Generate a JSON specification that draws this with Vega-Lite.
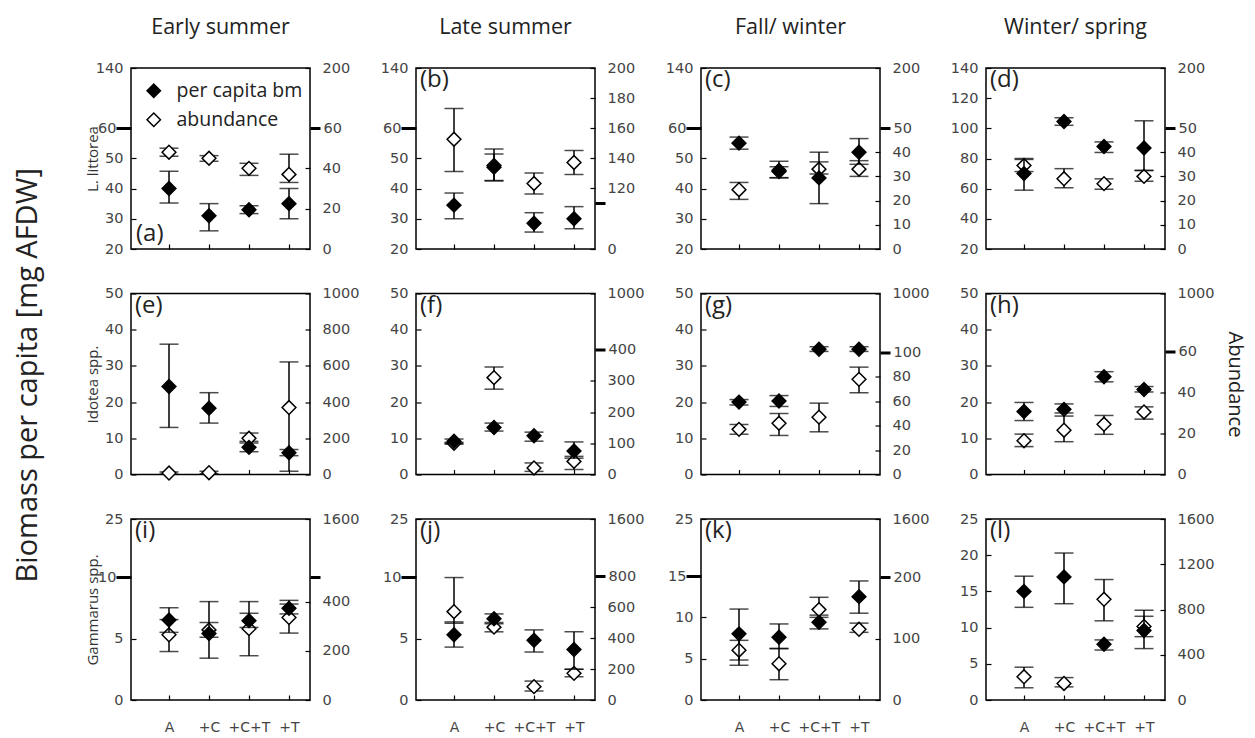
{
"$schema": "https://vega.github.io/schema/vega-lite/v6.json",
"background": "white",
"padding": {"left": 14, "top": 15, "right": 5, "bottom": 5},
"title": {"text": "Biomass per capita [mg AFDW]", "orient": "left", "anchor": "middle", "font": "Open Sans", "fontSize": 29, "fontWeight": "normal", "color": "#222", "offset": 41},
"data": {"values": [
{"panel":"a","trt":"A","metric":"per capita bm","value":40,"lo":35.2,"hi":45.7},
{"panel":"a","trt":"+C","metric":"per capita bm","value":31,"lo":26,"hi":35},
{"panel":"a","trt":"+C+T","metric":"per capita bm","value":33,"lo":31.7,"hi":34.3},
{"panel":"a","trt":"+T","metric":"per capita bm","value":35,"lo":30,"hi":40},
{"panel":"a","trt":"A","metric":"abundance","value":48,"lo":46,"hi":50},
{"panel":"a","trt":"+C","metric":"abundance","value":45,"lo":43.5,"hi":46.3},
{"panel":"a","trt":"+C+T","metric":"abundance","value":40,"lo":36.5,"hi":42.5},
{"panel":"a","trt":"+T","metric":"abundance","value":37,"lo":33,"hi":47},
{"panel":"b","trt":"A","metric":"per capita bm","value":34.5,"lo":30,"hi":38.5},
{"panel":"b","trt":"+C","metric":"per capita bm","value":47,"lo":42.5,"hi":51.4},
{"panel":"b","trt":"+C+T","metric":"per capita bm","value":28.5,"lo":25.6,"hi":32},
{"panel":"b","trt":"+T","metric":"per capita bm","value":30,"lo":26.7,"hi":34},
{"panel":"b","trt":"A","metric":"abundance","value":152.5,"lo":131,"hi":173},
{"panel":"b","trt":"+C","metric":"abundance","value":135,"lo":125,"hi":146},
{"panel":"b","trt":"+C+T","metric":"abundance","value":123,"lo":116,"hi":130},
{"panel":"b","trt":"+T","metric":"abundance","value":137,"lo":129,"hi":145},
{"panel":"c","trt":"A","metric":"per capita bm","value":55,"lo":53,"hi":57},
{"panel":"c","trt":"+C","metric":"per capita bm","value":46,"lo":43.5,"hi":49},
{"panel":"c","trt":"+C+T","metric":"per capita bm","value":43.5,"lo":35,"hi":52},
{"panel":"c","trt":"+T","metric":"per capita bm","value":52,"lo":48,"hi":56.5},
{"panel":"c","trt":"A","metric":"abundance","value":24.5,"lo":20.5,"hi":27.5},
{"panel":"c","trt":"+C","metric":"abundance","value":32,"lo":29.5,"hi":34},
{"panel":"c","trt":"+C+T","metric":"abundance","value":33,"lo":31,"hi":36},
{"panel":"c","trt":"+T","metric":"abundance","value":33,"lo":30,"hi":36.5},
{"panel":"d","trt":"A","metric":"per capita bm","value":70,"lo":59,"hi":80},
{"panel":"d","trt":"+C","metric":"per capita bm","value":104.5,"lo":102,"hi":107},
{"panel":"d","trt":"+C+T","metric":"per capita bm","value":88,"lo":84,"hi":91},
{"panel":"d","trt":"+T","metric":"per capita bm","value":87,"lo":72,"hi":105},
{"panel":"d","trt":"A","metric":"abundance","value":34.5,"lo":32,"hi":37},
{"panel":"d","trt":"+C","metric":"abundance","value":29,"lo":25.3,"hi":33.2},
{"panel":"d","trt":"+C+T","metric":"abundance","value":27,"lo":24.7,"hi":29},
{"panel":"d","trt":"+T","metric":"abundance","value":30,"lo":28,"hi":32.5},
{"panel":"e","trt":"A","metric":"per capita bm","value":24.3,"lo":13,"hi":36},
{"panel":"e","trt":"+C","metric":"per capita bm","value":18.3,"lo":14.2,"hi":22.6},
{"panel":"e","trt":"+C+T","metric":"per capita bm","value":7.5,"lo":6.3,"hi":8.7},
{"panel":"e","trt":"+T","metric":"per capita bm","value":6,"lo":5.2,"hi":6.9},
{"panel":"e","trt":"A","metric":"abundance","value":8,"lo":2,"hi":14},
{"panel":"e","trt":"+C","metric":"abundance","value":10,"lo":4,"hi":18},
{"panel":"e","trt":"+C+T","metric":"abundance","value":200,"lo":183,"hi":229},
{"panel":"e","trt":"+T","metric":"abundance","value":370,"lo":18,"hi":622},
{"panel":"f","trt":"A","metric":"per capita bm","value":9.2,"lo":8.6,"hi":9.8},
{"panel":"f","trt":"+C","metric":"per capita bm","value":13,"lo":12,"hi":14.2},
{"panel":"f","trt":"+C+T","metric":"per capita bm","value":10.7,"lo":9.2,"hi":11.7},
{"panel":"f","trt":"+T","metric":"per capita bm","value":6.5,"lo":4.5,"hi":9},
{"panel":"f","trt":"A","metric":"abundance","value":100,"lo":97,"hi":103},
{"panel":"f","trt":"+C","metric":"abundance","value":310,"lo":273,"hi":344},
{"panel":"f","trt":"+C+T","metric":"abundance","value":21,"lo":10,"hi":37},
{"panel":"f","trt":"+T","metric":"abundance","value":42,"lo":16,"hi":58},
{"panel":"g","trt":"A","metric":"per capita bm","value":20,"lo":19.2,"hi":20.7},
{"panel":"g","trt":"+C","metric":"per capita bm","value":20.3,"lo":18.8,"hi":21.8},
{"panel":"g","trt":"+C+T","metric":"per capita bm","value":34.6,"lo":34,"hi":35.3},
{"panel":"g","trt":"+T","metric":"per capita bm","value":34.6,"lo":34,"hi":35.3},
{"panel":"g","trt":"A","metric":"abundance","value":37,"lo":33,"hi":41},
{"panel":"g","trt":"+C","metric":"abundance","value":42,"lo":32,"hi":50},
{"panel":"g","trt":"+C+T","metric":"abundance","value":47,"lo":35,"hi":58.5},
{"panel":"g","trt":"+T","metric":"abundance","value":78,"lo":67,"hi":88},
{"panel":"h","trt":"A","metric":"per capita bm","value":17.4,"lo":14.9,"hi":19.9},
{"panel":"h","trt":"+C","metric":"per capita bm","value":18,"lo":17,"hi":19.5},
{"panel":"h","trt":"+C+T","metric":"per capita bm","value":27,"lo":25.6,"hi":28.4},
{"panel":"h","trt":"+T","metric":"per capita bm","value":23.5,"lo":22.8,"hi":24.3},
{"panel":"h","trt":"A","metric":"abundance","value":16.5,"lo":13.6,"hi":19.7},
{"panel":"h","trt":"+C","metric":"abundance","value":21.6,"lo":16,"hi":28.5},
{"panel":"h","trt":"+C+T","metric":"abundance","value":24.5,"lo":19.6,"hi":28.8},
{"panel":"h","trt":"+T","metric":"abundance","value":30.5,"lo":27,"hi":33},
{"panel":"i","trt":"A","metric":"per capita bm","value":6.5,"lo":5.5,"hi":7.5},
{"panel":"i","trt":"+C","metric":"per capita bm","value":5.4,"lo":3.4,"hi":8},
{"panel":"i","trt":"+C+T","metric":"per capita bm","value":6.45,"lo":5.9,"hi":7.05},
{"panel":"i","trt":"+T","metric":"per capita bm","value":7.45,"lo":7,"hi":7.8},
{"panel":"i","trt":"A","metric":"abundance","value":265,"lo":197,"hi":327},
{"panel":"i","trt":"+C","metric":"abundance","value":285,"lo":255,"hi":315},
{"panel":"i","trt":"+C+T","metric":"abundance","value":290,"lo":180,"hi":400},
{"panel":"i","trt":"+T","metric":"abundance","value":335,"lo":272,"hi":405},
{"panel":"j","trt":"A","metric":"per capita bm","value":5.3,"lo":4.3,"hi":6.35},
{"panel":"j","trt":"+C","metric":"per capita bm","value":6.6,"lo":6.2,"hi":7},
{"panel":"j","trt":"+C+T","metric":"per capita bm","value":4.86,"lo":3.9,"hi":5.7},
{"panel":"j","trt":"+T","metric":"per capita bm","value":4.1,"lo":2.5,"hi":5.55},
{"panel":"j","trt":"A","metric":"abundance","value":570,"lo":495,"hi":790},
{"panel":"j","trt":"+C","metric":"abundance","value":470,"lo":440,"hi":500},
{"panel":"j","trt":"+C+T","metric":"abundance","value":86,"lo":58,"hi":122},
{"panel":"j","trt":"+T","metric":"abundance","value":172,"lo":150,"hi":198},
{"panel":"k","trt":"A","metric":"per capita bm","value":8,"lo":4.2,"hi":11},
{"panel":"k","trt":"+C","metric":"per capita bm","value":7.6,"lo":6.2,"hi":9.2},
{"panel":"k","trt":"+C+T","metric":"per capita bm","value":9.4,"lo":8.6,"hi":10},
{"panel":"k","trt":"+T","metric":"per capita bm","value":12.5,"lo":10.5,"hi":14.4},
{"panel":"k","trt":"A","metric":"abundance","value":81,"lo":65,"hi":97},
{"panel":"k","trt":"+C","metric":"abundance","value":59,"lo":33,"hi":84},
{"panel":"k","trt":"+C+T","metric":"abundance","value":147,"lo":138,"hi":167},
{"panel":"k","trt":"+T","metric":"abundance","value":115,"lo":110,"hi":125},
{"panel":"l","trt":"A","metric":"per capita bm","value":15,"lo":12.8,"hi":17.1},
{"panel":"l","trt":"+C","metric":"per capita bm","value":17,"lo":13.3,"hi":20.3},
{"panel":"l","trt":"+C+T","metric":"per capita bm","value":7.7,"lo":6.9,"hi":8.3},
{"panel":"l","trt":"+T","metric":"per capita bm","value":9.6,"lo":7.1,"hi":12.4},
{"panel":"l","trt":"A","metric":"abundance","value":205,"lo":108,"hi":290},
{"panel":"l","trt":"+C","metric":"abundance","value":146,"lo":116,"hi":198},
{"panel":"l","trt":"+C+T","metric":"abundance","value":890,"lo":700,"hi":1065},
{"panel":"l","trt":"+T","metric":"abundance","value":650,"lo":560,"hi":740}
]},
"columns": 4,
"spacing": {"row": 44.5, "column": 106},
"bounds": "flush",
"resolve": {"scale": {"x": "independent", "y": "independent", "fill": "independent"}, "legend": {"fill": "independent"}},
"concat": [
{"width": 179, "height": 181,
 "title": {"text": "Early summer", "font": "Open Sans", "fontSize": 21.5, "fontWeight": "normal", "color": "#222", "offset": 22},
 "transform": [{"filter": "datum.panel == 'a'"}],
 "encoding": {"x": {"field": "trt", "type": "nominal", "scale": {"type": "point", "domain": ["A","+C","+C+T","+T"], "range": [38,158], "padding": 0}, "axis": {"title": null, "labels": false, "tickSize": -5, "domain": false}}},
 "layer": [
  {"transform": [{"filter": "datum.metric == 'abundance'"}],
   "layer": [
    {"mark": {"type": "errorbar", "ticks": true, "size": 19, "thickness": 1.5, "color": "black"},
     "encoding": {"y": {"field": "lo", "type": "quantitative", "scale": {"domain": [0,60,200], "range": [181,60,0], "nice": false, "zero": false}, "axis": {"orient": "right", "title": null, "values": [0,20,40,60,200], "labelOverlap": false, "tickSize": {"condition": {"test": "datum.value == 60", "value": 10}, "value": -5}, "tickWidth": {"condition": {"test": "datum.value == 60", "value": 3}, "value": 1.2}, "labelPadding": {"condition": {"test": "datum.value == 60", "value": 3}, "value": 17}}}, "y2": {"field": "hi"}}},
    {"mark": {"type": "point", "shape": "diamond", "size": 190, "filled": true, "stroke": "black", "strokeWidth": 1.5, "opacity": 1},
     "encoding": {"y": {"field": "value", "type": "quantitative", "scale": {"domain": [0,60,200], "range": [181,60,0], "nice": false, "zero": false}, "axis": {"orient": "right", "title": null, "values": [0,20,40,60,200], "labelOverlap": false, "tickSize": {"condition": {"test": "datum.value == 60", "value": 10}, "value": -5}, "tickWidth": {"condition": {"test": "datum.value == 60", "value": 3}, "value": 1.2}, "labelPadding": {"condition": {"test": "datum.value == 60", "value": 3}, "value": 17}}},
      "fill": {"field": "metric", "type": "nominal", "scale": {"domain": ["per capita bm","abundance"], "range": ["black","white"]}, "legend": {"title": null, "orient": "top-left", "offset": 13, "padding": 0, "labelFont": "Open Sans", "labelFontSize": 19.5, "labelColor": "#222", "symbolType": "diamond", "symbolSize": 180, "symbolStrokeColor": "black", "symbolStrokeWidth": 1.5, "rowPadding": 8, "labelOffset": 13}}}}
   ]},
  {"transform": [{"filter": "datum.metric == 'per capita bm'"}],
   "layer": [
    {"mark": {"type": "errorbar", "ticks": true, "size": 19, "thickness": 1.5, "color": "black"},
     "encoding": {"y": {"field": "lo", "type": "quantitative", "scale": {"domain": [20,60,140], "range": [181,60,0], "nice": false, "zero": false}, "axis": {"orient": "left", "title": "L. littorea", "titleX": -31, "titleFont": "Open Sans", "titleFontSize": 15, "titleFontWeight": "normal", "titleColor": "#333", "values": [20,30,40,50,60,140], "labelOverlap": false, "tickSize": {"condition": {"test": "datum.value == 60", "value": 15}, "value": -5}, "tickWidth": {"condition": {"test": "datum.value == 60", "value": 3}, "value": 1.2}, "labelPadding": {"condition": {"test": "datum.value == 60", "value": 0}, "value": 13}}}, "y2": {"field": "hi"}}},
    {"mark": {"type": "point", "shape": "diamond", "size": 190, "filled": true, "stroke": "black", "strokeWidth": 1.5, "opacity": 1},
     "encoding": {"y": {"field": "value", "type": "quantitative", "scale": {"domain": [20,60,140], "range": [181,60,0], "nice": false, "zero": false}, "axis": {"orient": "left", "title": "L. littorea", "titleX": -31, "titleFont": "Open Sans", "titleFontSize": 15, "titleFontWeight": "normal", "titleColor": "#333", "values": [20,30,40,50,60,140], "labelOverlap": false, "tickSize": {"condition": {"test": "datum.value == 60", "value": 15}, "value": -5}, "tickWidth": {"condition": {"test": "datum.value == 60", "value": 3}, "value": 1.2}, "labelPadding": {"condition": {"test": "datum.value == 60", "value": 0}, "value": 13}}},
      "fill": {"field": "metric", "type": "nominal", "scale": {"domain": ["per capita bm","abundance"], "range": ["black","white"]}, "legend": {"title": null, "orient": "top-left", "offset": 13, "padding": 0, "labelFont": "Open Sans", "labelFontSize": 19.5, "labelColor": "#222", "symbolType": "diamond", "symbolSize": 180, "symbolStrokeColor": "black", "symbolStrokeWidth": 1.5, "rowPadding": 8, "labelOffset": 13}}}},
    {"transform": [{"filter": "datum.trt == 'A'"}],
     "mark": {"type": "text", "text": "(a)", "align": "left", "baseline": "bottom", "dx": -33, "dy": -3, "font": "Open Sans", "fontSize": 24, "color": "#222"},
     "encoding": {"y": {"datum": 20, "type": "quantitative", "scale": {"domain": [20,60,140], "range": [181,60,0], "nice": false, "zero": false}, "axis": {"orient": "left", "title": "L. littorea", "titleX": -31, "titleFont": "Open Sans", "titleFontSize": 15, "titleFontWeight": "normal", "titleColor": "#333", "values": [20,30,40,50,60,140], "labelOverlap": false, "tickSize": {"condition": {"test": "datum.value == 60", "value": 15}, "value": -5}, "tickWidth": {"condition": {"test": "datum.value == 60", "value": 3}, "value": 1.2}, "labelPadding": {"condition": {"test": "datum.value == 60", "value": 0}, "value": 13}}}}}
   ]}
 ],
 "resolve": {"scale": {"y": "independent"}}},

{"width": 179, "height": 181,
 "title": {"text": "Late summer", "font": "Open Sans", "fontSize": 21.5, "fontWeight": "normal", "color": "#222", "offset": 22},
 "transform": [{"filter": "datum.panel == 'b'"}],
 "encoding": {"x": {"field": "trt", "type": "nominal", "scale": {"type": "point", "domain": ["A","+C","+C+T","+T"], "range": [38,158], "padding": 0}, "axis": {"title": null, "labels": false, "tickSize": -5, "domain": false}}},
 "layer": [
  {"transform": [{"filter": "datum.metric == 'abundance'"}],
   "layer": [
    {"mark": {"type": "errorbar", "ticks": true, "size": 19, "thickness": 1.5, "color": "black"},
     "encoding": {"y": {"field": "lo", "type": "quantitative", "scale": {"domain": [0,110,200], "range": [181,135,0], "nice": false, "zero": false}, "axis": {"orient": "right", "title": null, "values": [0,110,120,140,160,180,200], "labelExpr": "datum.value == 110 ? '' : datum.label", "labelOverlap": false, "tickSize": {"condition": {"test": "datum.value == 110", "value": 10}, "value": -5}, "tickWidth": {"condition": {"test": "datum.value == 110", "value": 3}, "value": 1.2}, "labelPadding": 17}}, "y2": {"field": "hi"}}},
    {"mark": {"type": "point", "shape": "diamond", "size": 190, "filled": true, "stroke": "black", "strokeWidth": 1.5, "opacity": 1},
     "encoding": {"y": {"field": "value", "type": "quantitative", "scale": {"domain": [0,110,200], "range": [181,135,0], "nice": false, "zero": false}, "axis": {"orient": "right", "title": null, "values": [0,110,120,140,160,180,200], "labelExpr": "datum.value == 110 ? '' : datum.label", "labelOverlap": false, "tickSize": {"condition": {"test": "datum.value == 110", "value": 10}, "value": -5}, "tickWidth": {"condition": {"test": "datum.value == 110", "value": 3}, "value": 1.2}, "labelPadding": 17}},
      "fill": {"field": "metric", "type": "nominal", "scale": {"domain": ["per capita bm","abundance"], "range": ["black","white"]}, "legend": null}}}
   ]},
  {"transform": [{"filter": "datum.metric == 'per capita bm'"}],
   "layer": [
    {"mark": {"type": "errorbar", "ticks": true, "size": 19, "thickness": 1.5, "color": "black"},
     "encoding": {"y": {"field": "lo", "type": "quantitative", "scale": {"domain": [20,60,140], "range": [181,60,0], "nice": false, "zero": false}, "axis": {"orient": "left", "title": null, "values": [20,30,40,50,60,140], "labelOverlap": false, "tickSize": {"condition": {"test": "datum.value == 60", "value": 15}, "value": -5}, "tickWidth": {"condition": {"test": "datum.value == 60", "value": 3}, "value": 1.2}, "labelPadding": {"condition": {"test": "datum.value == 60", "value": 0}, "value": 13}}}, "y2": {"field": "hi"}}},
    {"mark": {"type": "point", "shape": "diamond", "size": 190, "filled": true, "stroke": "black", "strokeWidth": 1.5, "opacity": 1},
     "encoding": {"y": {"field": "value", "type": "quantitative", "scale": {"domain": [20,60,140], "range": [181,60,0], "nice": false, "zero": false}, "axis": {"orient": "left", "title": null, "values": [20,30,40,50,60,140], "labelOverlap": false, "tickSize": {"condition": {"test": "datum.value == 60", "value": 15}, "value": -5}, "tickWidth": {"condition": {"test": "datum.value == 60", "value": 3}, "value": 1.2}, "labelPadding": {"condition": {"test": "datum.value == 60", "value": 0}, "value": 13}}},
      "fill": {"field": "metric", "type": "nominal", "scale": {"domain": ["per capita bm","abundance"], "range": ["black","white"]}, "legend": null}}},
    {"transform": [{"filter": "datum.trt == 'A'"}],
     "mark": {"type": "text", "text": "(b)", "align": "left", "baseline": "top", "dx": -34, "dy": 0, "font": "Open Sans", "fontSize": 24, "color": "#222"},
     "encoding": {"y": {"datum": 140, "type": "quantitative", "scale": {"domain": [20,60,140], "range": [181,60,0], "nice": false, "zero": false}, "axis": {"orient": "left", "title": null, "values": [20,30,40,50,60,140], "labelOverlap": false, "tickSize": {"condition": {"test": "datum.value == 60", "value": 15}, "value": -5}, "tickWidth": {"condition": {"test": "datum.value == 60", "value": 3}, "value": 1.2}, "labelPadding": {"condition": {"test": "datum.value == 60", "value": 0}, "value": 13}}}}}
   ]}
 ],
 "resolve": {"scale": {"y": "independent"}}},

{"width": 179, "height": 181,
 "title": {"text": "Fall/ winter", "font": "Open Sans", "fontSize": 21.5, "fontWeight": "normal", "color": "#222", "offset": 22},
 "transform": [{"filter": "datum.panel == 'c'"}],
 "encoding": {"x": {"field": "trt", "type": "nominal", "scale": {"type": "point", "domain": ["A","+C","+C+T","+T"], "range": [38,158], "padding": 0}, "axis": {"title": null, "labels": false, "tickSize": -5, "domain": false}}},
 "layer": [
  {"transform": [{"filter": "datum.metric == 'abundance'"}],
   "layer": [
    {"mark": {"type": "errorbar", "ticks": true, "size": 19, "thickness": 1.5, "color": "black"},
     "encoding": {"y": {"field": "lo", "type": "quantitative", "scale": {"domain": [0,50,200], "range": [181,60,0], "nice": false, "zero": false}, "axis": {"orient": "right", "title": null, "values": [0,10,20,30,40,50,200], "labelOverlap": false, "tickSize": {"condition": {"test": "datum.value == 50", "value": 10}, "value": -5}, "tickWidth": {"condition": {"test": "datum.value == 50", "value": 3}, "value": 1.2}, "labelPadding": {"condition": {"test": "datum.value == 50", "value": 3}, "value": 17}}}, "y2": {"field": "hi"}}},
    {"mark": {"type": "point", "shape": "diamond", "size": 190, "filled": true, "stroke": "black", "strokeWidth": 1.5, "opacity": 1},
     "encoding": {"y": {"field": "value", "type": "quantitative", "scale": {"domain": [0,50,200], "range": [181,60,0], "nice": false, "zero": false}, "axis": {"orient": "right", "title": null, "values": [0,10,20,30,40,50,200], "labelOverlap": false, "tickSize": {"condition": {"test": "datum.value == 50", "value": 10}, "value": -5}, "tickWidth": {"condition": {"test": "datum.value == 50", "value": 3}, "value": 1.2}, "labelPadding": {"condition": {"test": "datum.value == 50", "value": 3}, "value": 17}}},
      "fill": {"field": "metric", "type": "nominal", "scale": {"domain": ["per capita bm","abundance"], "range": ["black","white"]}, "legend": null}}}
   ]},
  {"transform": [{"filter": "datum.metric == 'per capita bm'"}],
   "layer": [
    {"mark": {"type": "errorbar", "ticks": true, "size": 19, "thickness": 1.5, "color": "black"},
     "encoding": {"y": {"field": "lo", "type": "quantitative", "scale": {"domain": [20,60,140], "range": [181,60,0], "nice": false, "zero": false}, "axis": {"orient": "left", "title": null, "values": [20,30,40,50,60,140], "labelOverlap": false, "tickSize": {"condition": {"test": "datum.value == 60", "value": 15}, "value": -5}, "tickWidth": {"condition": {"test": "datum.value == 60", "value": 3}, "value": 1.2}, "labelPadding": {"condition": {"test": "datum.value == 60", "value": 0}, "value": 13}}}, "y2": {"field": "hi"}}},
    {"mark": {"type": "point", "shape": "diamond", "size": 190, "filled": true, "stroke": "black", "strokeWidth": 1.5, "opacity": 1},
     "encoding": {"y": {"field": "value", "type": "quantitative", "scale": {"domain": [20,60,140], "range": [181,60,0], "nice": false, "zero": false}, "axis": {"orient": "left", "title": null, "values": [20,30,40,50,60,140], "labelOverlap": false, "tickSize": {"condition": {"test": "datum.value == 60", "value": 15}, "value": -5}, "tickWidth": {"condition": {"test": "datum.value == 60", "value": 3}, "value": 1.2}, "labelPadding": {"condition": {"test": "datum.value == 60", "value": 0}, "value": 13}}},
      "fill": {"field": "metric", "type": "nominal", "scale": {"domain": ["per capita bm","abundance"], "range": ["black","white"]}, "legend": null}}},
    {"transform": [{"filter": "datum.trt == 'A'"}],
     "mark": {"type": "text", "text": "(c)", "align": "left", "baseline": "top", "dx": -34, "dy": 0, "font": "Open Sans", "fontSize": 24, "color": "#222"},
     "encoding": {"y": {"datum": 140, "type": "quantitative", "scale": {"domain": [20,60,140], "range": [181,60,0], "nice": false, "zero": false}, "axis": {"orient": "left", "title": null, "values": [20,30,40,50,60,140], "labelOverlap": false, "tickSize": {"condition": {"test": "datum.value == 60", "value": 15}, "value": -5}, "tickWidth": {"condition": {"test": "datum.value == 60", "value": 3}, "value": 1.2}, "labelPadding": {"condition": {"test": "datum.value == 60", "value": 0}, "value": 13}}}}}
   ]}
 ],
 "resolve": {"scale": {"y": "independent"}}},

{"width": 179, "height": 181,
 "title": {"text": "Winter/ spring", "font": "Open Sans", "fontSize": 21.5, "fontWeight": "normal", "color": "#222", "offset": 22},
 "transform": [{"filter": "datum.panel == 'd'"}],
 "encoding": {"x": {"field": "trt", "type": "nominal", "scale": {"type": "point", "domain": ["A","+C","+C+T","+T"], "range": [38,158], "padding": 0}, "axis": {"title": null, "labels": false, "tickSize": -5, "domain": false}}},
 "layer": [
  {"transform": [{"filter": "datum.metric == 'abundance'"}],
   "layer": [
    {"mark": {"type": "errorbar", "ticks": true, "size": 19, "thickness": 1.5, "color": "black"},
     "encoding": {"y": {"field": "lo", "type": "quantitative", "scale": {"domain": [0,50,200], "range": [181,60,0], "nice": false, "zero": false}, "axis": {"orient": "right", "title": null, "values": [0,10,20,30,40,50,200], "labelOverlap": false, "tickSize": {"condition": {"test": "datum.value == 50", "value": 10}, "value": -5}, "tickWidth": {"condition": {"test": "datum.value == 50", "value": 3}, "value": 1.2}, "labelPadding": {"condition": {"test": "datum.value == 50", "value": 3}, "value": 17}}}, "y2": {"field": "hi"}}},
    {"mark": {"type": "point", "shape": "diamond", "size": 190, "filled": true, "stroke": "black", "strokeWidth": 1.5, "opacity": 1},
     "encoding": {"y": {"field": "value", "type": "quantitative", "scale": {"domain": [0,50,200], "range": [181,60,0], "nice": false, "zero": false}, "axis": {"orient": "right", "title": null, "values": [0,10,20,30,40,50,200], "labelOverlap": false, "tickSize": {"condition": {"test": "datum.value == 50", "value": 10}, "value": -5}, "tickWidth": {"condition": {"test": "datum.value == 50", "value": 3}, "value": 1.2}, "labelPadding": {"condition": {"test": "datum.value == 50", "value": 3}, "value": 17}}},
      "fill": {"field": "metric", "type": "nominal", "scale": {"domain": ["per capita bm","abundance"], "range": ["black","white"]}, "legend": null}}}
   ]},
  {"transform": [{"filter": "datum.metric == 'per capita bm'"}],
   "layer": [
    {"mark": {"type": "errorbar", "ticks": true, "size": 19, "thickness": 1.5, "color": "black"},
     "encoding": {"y": {"field": "lo", "type": "quantitative", "scale": {"domain": [20,140], "range": [181,0], "nice": false, "zero": false}, "axis": {"orient": "left", "title": null, "values": [20,40,60,80,100,120,140], "labelOverlap": false, "labelPadding": 13, "tickSize": -5, "tickWidth": 1.2}}, "y2": {"field": "hi"}}},
    {"mark": {"type": "point", "shape": "diamond", "size": 190, "filled": true, "stroke": "black", "strokeWidth": 1.5, "opacity": 1},
     "encoding": {"y": {"field": "value", "type": "quantitative", "scale": {"domain": [20,140], "range": [181,0], "nice": false, "zero": false}, "axis": {"orient": "left", "title": null, "values": [20,40,60,80,100,120,140], "labelOverlap": false, "labelPadding": 13, "tickSize": -5, "tickWidth": 1.2}},
      "fill": {"field": "metric", "type": "nominal", "scale": {"domain": ["per capita bm","abundance"], "range": ["black","white"]}, "legend": null}}},
    {"transform": [{"filter": "datum.trt == 'A'"}],
     "mark": {"type": "text", "text": "(d)", "align": "left", "baseline": "top", "dx": -34, "dy": 0, "font": "Open Sans", "fontSize": 24, "color": "#222"},
     "encoding": {"y": {"datum": 140, "type": "quantitative", "scale": {"domain": [20,140], "range": [181,0], "nice": false, "zero": false}, "axis": {"orient": "left", "title": null, "values": [20,40,60,80,100,120,140], "labelOverlap": false, "labelPadding": 13, "tickSize": -5, "tickWidth": 1.2}}}}
   ]}
 ],
 "resolve": {"scale": {"y": "independent"}}},

{"width": 179, "height": 181,
 "transform": [{"filter": "datum.panel == 'e'"}],
 "encoding": {"x": {"field": "trt", "type": "nominal", "scale": {"type": "point", "domain": ["A","+C","+C+T","+T"], "range": [38,158], "padding": 0}, "axis": {"title": null, "labels": false, "tickSize": -5, "domain": false}}},
 "layer": [
  {"transform": [{"filter": "datum.metric == 'abundance'"}],
   "layer": [
    {"mark": {"type": "errorbar", "ticks": true, "size": 19, "thickness": 1.5, "color": "black"},
     "encoding": {"y": {"field": "lo", "type": "quantitative", "scale": {"domain": [0,1000], "range": [181,0], "nice": false, "zero": false}, "axis": {"orient": "right", "title": null, "values": [0,200,400,600,800,1000], "labelOverlap": false, "labelPadding": 17, "tickSize": -5, "tickWidth": 1.2}}, "y2": {"field": "hi"}}},
    {"mark": {"type": "point", "shape": "diamond", "size": 190, "filled": true, "stroke": "black", "strokeWidth": 1.5, "opacity": 1},
     "encoding": {"y": {"field": "value", "type": "quantitative", "scale": {"domain": [0,1000], "range": [181,0], "nice": false, "zero": false}, "axis": {"orient": "right", "title": null, "values": [0,200,400,600,800,1000], "labelOverlap": false, "labelPadding": 17, "tickSize": -5, "tickWidth": 1.2}},
      "fill": {"field": "metric", "type": "nominal", "scale": {"domain": ["per capita bm","abundance"], "range": ["black","white"]}, "legend": null}}}
   ]},
  {"transform": [{"filter": "datum.metric == 'per capita bm'"}],
   "layer": [
    {"mark": {"type": "errorbar", "ticks": true, "size": 19, "thickness": 1.5, "color": "black"},
     "encoding": {"y": {"field": "lo", "type": "quantitative", "scale": {"domain": [0,50], "range": [181,0], "nice": false, "zero": false}, "axis": {"orient": "left", "title": "Idotea spp.", "titleX": -31, "titleFont": "Open Sans", "titleFontSize": 15, "titleFontWeight": "normal", "titleColor": "#333", "values": [0,10,20,30,40,50], "labelOverlap": false, "labelPadding": 13, "tickSize": -5, "tickWidth": 1.2}}, "y2": {"field": "hi"}}},
    {"mark": {"type": "point", "shape": "diamond", "size": 190, "filled": true, "stroke": "black", "strokeWidth": 1.5, "opacity": 1},
     "encoding": {"y": {"field": "value", "type": "quantitative", "scale": {"domain": [0,50], "range": [181,0], "nice": false, "zero": false}, "axis": {"orient": "left", "title": "Idotea spp.", "titleX": -31, "titleFont": "Open Sans", "titleFontSize": 15, "titleFontWeight": "normal", "titleColor": "#333", "values": [0,10,20,30,40,50], "labelOverlap": false, "labelPadding": 13, "tickSize": -5, "tickWidth": 1.2}},
      "fill": {"field": "metric", "type": "nominal", "scale": {"domain": ["per capita bm","abundance"], "range": ["black","white"]}, "legend": null}}},
    {"transform": [{"filter": "datum.trt == 'A'"}],
     "mark": {"type": "text", "text": "(e)", "align": "left", "baseline": "top", "dx": -34, "dy": 0, "font": "Open Sans", "fontSize": 24, "color": "#222"},
     "encoding": {"y": {"datum": 50, "type": "quantitative", "scale": {"domain": [0,50], "range": [181,0], "nice": false, "zero": false}, "axis": {"orient": "left", "title": "Idotea spp.", "titleX": -31, "titleFont": "Open Sans", "titleFontSize": 15, "titleFontWeight": "normal", "titleColor": "#333", "values": [0,10,20,30,40,50], "labelOverlap": false, "labelPadding": 13, "tickSize": -5, "tickWidth": 1.2}}}}
   ]}
 ],
 "resolve": {"scale": {"y": "independent"}}},

{"width": 179, "height": 181,
 "transform": [{"filter": "datum.panel == 'f'"}],
 "encoding": {"x": {"field": "trt", "type": "nominal", "scale": {"type": "point", "domain": ["A","+C","+C+T","+T"], "range": [38,158], "padding": 0}, "axis": {"title": null, "labels": false, "tickSize": -5, "domain": false}}},
 "layer": [
  {"transform": [{"filter": "datum.metric == 'abundance'"}],
   "layer": [
    {"mark": {"type": "errorbar", "ticks": true, "size": 19, "thickness": 1.5, "color": "black"},
     "encoding": {"y": {"field": "lo", "type": "quantitative", "scale": {"domain": [0,400,1000], "range": [181,56,0], "nice": false, "zero": false}, "axis": {"orient": "right", "title": null, "values": [0,100,200,300,400,1000], "labelOverlap": false, "tickSize": {"condition": {"test": "datum.value == 400", "value": 10}, "value": -5}, "tickWidth": {"condition": {"test": "datum.value == 400", "value": 3}, "value": 1.2}, "labelPadding": {"condition": {"test": "datum.value == 400", "value": 3}, "value": 17}}}, "y2": {"field": "hi"}}},
    {"mark": {"type": "point", "shape": "diamond", "size": 190, "filled": true, "stroke": "black", "strokeWidth": 1.5, "opacity": 1},
     "encoding": {"y": {"field": "value", "type": "quantitative", "scale": {"domain": [0,400,1000], "range": [181,56,0], "nice": false, "zero": false}, "axis": {"orient": "right", "title": null, "values": [0,100,200,300,400,1000], "labelOverlap": false, "tickSize": {"condition": {"test": "datum.value == 400", "value": 10}, "value": -5}, "tickWidth": {"condition": {"test": "datum.value == 400", "value": 3}, "value": 1.2}, "labelPadding": {"condition": {"test": "datum.value == 400", "value": 3}, "value": 17}}},
      "fill": {"field": "metric", "type": "nominal", "scale": {"domain": ["per capita bm","abundance"], "range": ["black","white"]}, "legend": null}}}
   ]},
  {"transform": [{"filter": "datum.metric == 'per capita bm'"}],
   "layer": [
    {"mark": {"type": "errorbar", "ticks": true, "size": 19, "thickness": 1.5, "color": "black"},
     "encoding": {"y": {"field": "lo", "type": "quantitative", "scale": {"domain": [0,50], "range": [181,0], "nice": false, "zero": false}, "axis": {"orient": "left", "title": null, "values": [0,10,20,30,40,50], "labelOverlap": false, "labelPadding": 13, "tickSize": -5, "tickWidth": 1.2}}, "y2": {"field": "hi"}}},
    {"mark": {"type": "point", "shape": "diamond", "size": 190, "filled": true, "stroke": "black", "strokeWidth": 1.5, "opacity": 1},
     "encoding": {"y": {"field": "value", "type": "quantitative", "scale": {"domain": [0,50], "range": [181,0], "nice": false, "zero": false}, "axis": {"orient": "left", "title": null, "values": [0,10,20,30,40,50], "labelOverlap": false, "labelPadding": 13, "tickSize": -5, "tickWidth": 1.2}},
      "fill": {"field": "metric", "type": "nominal", "scale": {"domain": ["per capita bm","abundance"], "range": ["black","white"]}, "legend": null}}},
    {"transform": [{"filter": "datum.trt == 'A'"}],
     "mark": {"type": "text", "text": "(f)", "align": "left", "baseline": "top", "dx": -34, "dy": 0, "font": "Open Sans", "fontSize": 24, "color": "#222"},
     "encoding": {"y": {"datum": 50, "type": "quantitative", "scale": {"domain": [0,50], "range": [181,0], "nice": false, "zero": false}, "axis": {"orient": "left", "title": null, "values": [0,10,20,30,40,50], "labelOverlap": false, "labelPadding": 13, "tickSize": -5, "tickWidth": 1.2}}}}
   ]}
 ],
 "resolve": {"scale": {"y": "independent"}}},

{"width": 179, "height": 181,
 "transform": [{"filter": "datum.panel == 'g'"}],
 "encoding": {"x": {"field": "trt", "type": "nominal", "scale": {"type": "point", "domain": ["A","+C","+C+T","+T"], "range": [38,158], "padding": 0}, "axis": {"title": null, "labels": false, "tickSize": -5, "domain": false}}},
 "layer": [
  {"transform": [{"filter": "datum.metric == 'abundance'"}],
   "layer": [
    {"mark": {"type": "errorbar", "ticks": true, "size": 19, "thickness": 1.5, "color": "black"},
     "encoding": {"y": {"field": "lo", "type": "quantitative", "scale": {"domain": [0,100,1000], "range": [181,59,0], "nice": false, "zero": false}, "axis": {"orient": "right", "title": null, "values": [0,20,40,60,80,100,1000], "labelOverlap": false, "tickSize": {"condition": {"test": "datum.value == 100", "value": 10}, "value": -5}, "tickWidth": {"condition": {"test": "datum.value == 100", "value": 3}, "value": 1.2}, "labelPadding": {"condition": {"test": "datum.value == 100", "value": 3}, "value": 17}}}, "y2": {"field": "hi"}}},
    {"mark": {"type": "point", "shape": "diamond", "size": 190, "filled": true, "stroke": "black", "strokeWidth": 1.5, "opacity": 1},
     "encoding": {"y": {"field": "value", "type": "quantitative", "scale": {"domain": [0,100,1000], "range": [181,59,0], "nice": false, "zero": false}, "axis": {"orient": "right", "title": null, "values": [0,20,40,60,80,100,1000], "labelOverlap": false, "tickSize": {"condition": {"test": "datum.value == 100", "value": 10}, "value": -5}, "tickWidth": {"condition": {"test": "datum.value == 100", "value": 3}, "value": 1.2}, "labelPadding": {"condition": {"test": "datum.value == 100", "value": 3}, "value": 17}}},
      "fill": {"field": "metric", "type": "nominal", "scale": {"domain": ["per capita bm","abundance"], "range": ["black","white"]}, "legend": null}}}
   ]},
  {"transform": [{"filter": "datum.metric == 'per capita bm'"}],
   "layer": [
    {"mark": {"type": "errorbar", "ticks": true, "size": 19, "thickness": 1.5, "color": "black"},
     "encoding": {"y": {"field": "lo", "type": "quantitative", "scale": {"domain": [0,50], "range": [181,0], "nice": false, "zero": false}, "axis": {"orient": "left", "title": null, "values": [0,10,20,30,40,50], "labelOverlap": false, "labelPadding": 13, "tickSize": -5, "tickWidth": 1.2}}, "y2": {"field": "hi"}}},
    {"mark": {"type": "point", "shape": "diamond", "size": 190, "filled": true, "stroke": "black", "strokeWidth": 1.5, "opacity": 1},
     "encoding": {"y": {"field": "value", "type": "quantitative", "scale": {"domain": [0,50], "range": [181,0], "nice": false, "zero": false}, "axis": {"orient": "left", "title": null, "values": [0,10,20,30,40,50], "labelOverlap": false, "labelPadding": 13, "tickSize": -5, "tickWidth": 1.2}},
      "fill": {"field": "metric", "type": "nominal", "scale": {"domain": ["per capita bm","abundance"], "range": ["black","white"]}, "legend": null}}},
    {"transform": [{"filter": "datum.trt == 'A'"}],
     "mark": {"type": "text", "text": "(g)", "align": "left", "baseline": "top", "dx": -34, "dy": 0, "font": "Open Sans", "fontSize": 24, "color": "#222"},
     "encoding": {"y": {"datum": 50, "type": "quantitative", "scale": {"domain": [0,50], "range": [181,0], "nice": false, "zero": false}, "axis": {"orient": "left", "title": null, "values": [0,10,20,30,40,50], "labelOverlap": false, "labelPadding": 13, "tickSize": -5, "tickWidth": 1.2}}}}
   ]}
 ],
 "resolve": {"scale": {"y": "independent"}}},

{"width": 179, "height": 181,
 "transform": [{"filter": "datum.panel == 'h'"}],
 "encoding": {"x": {"field": "trt", "type": "nominal", "scale": {"type": "point", "domain": ["A","+C","+C+T","+T"], "range": [38,158], "padding": 0}, "axis": {"title": null, "labels": false, "tickSize": -5, "domain": false}}},
 "layer": [
  {"transform": [{"filter": "datum.metric == 'abundance'"}],
   "layer": [
    {"mark": {"type": "errorbar", "ticks": true, "size": 19, "thickness": 1.5, "color": "black"},
     "encoding": {"y": {"field": "lo", "type": "quantitative", "scale": {"domain": [0,60,1000], "range": [181,58,0], "nice": false, "zero": false}, "axis": {"orient": "right", "title": "Abundance", "titleFont": "Open Sans", "titleFontSize": 20, "titleFontWeight": "normal", "titleColor": "#222", "titlePadding": 11, "values": [0,20,40,60,1000], "labelOverlap": false, "tickSize": {"condition": {"test": "datum.value == 60", "value": 10}, "value": -5}, "tickWidth": {"condition": {"test": "datum.value == 60", "value": 3}, "value": 1.2}, "labelPadding": {"condition": {"test": "datum.value == 60", "value": 3}, "value": 17}}}, "y2": {"field": "hi"}}},
    {"mark": {"type": "point", "shape": "diamond", "size": 190, "filled": true, "stroke": "black", "strokeWidth": 1.5, "opacity": 1},
     "encoding": {"y": {"field": "value", "type": "quantitative", "scale": {"domain": [0,60,1000], "range": [181,58,0], "nice": false, "zero": false}, "axis": {"orient": "right", "title": "Abundance", "titleFont": "Open Sans", "titleFontSize": 20, "titleFontWeight": "normal", "titleColor": "#222", "titlePadding": 11, "values": [0,20,40,60,1000], "labelOverlap": false, "tickSize": {"condition": {"test": "datum.value == 60", "value": 10}, "value": -5}, "tickWidth": {"condition": {"test": "datum.value == 60", "value": 3}, "value": 1.2}, "labelPadding": {"condition": {"test": "datum.value == 60", "value": 3}, "value": 17}}},
      "fill": {"field": "metric", "type": "nominal", "scale": {"domain": ["per capita bm","abundance"], "range": ["black","white"]}, "legend": null}}}
   ]},
  {"transform": [{"filter": "datum.metric == 'per capita bm'"}],
   "layer": [
    {"mark": {"type": "errorbar", "ticks": true, "size": 19, "thickness": 1.5, "color": "black"},
     "encoding": {"y": {"field": "lo", "type": "quantitative", "scale": {"domain": [0,50], "range": [181,0], "nice": false, "zero": false}, "axis": {"orient": "left", "title": null, "values": [0,10,20,30,40,50], "labelOverlap": false, "labelPadding": 13, "tickSize": -5, "tickWidth": 1.2}}, "y2": {"field": "hi"}}},
    {"mark": {"type": "point", "shape": "diamond", "size": 190, "filled": true, "stroke": "black", "strokeWidth": 1.5, "opacity": 1},
     "encoding": {"y": {"field": "value", "type": "quantitative", "scale": {"domain": [0,50], "range": [181,0], "nice": false, "zero": false}, "axis": {"orient": "left", "title": null, "values": [0,10,20,30,40,50], "labelOverlap": false, "labelPadding": 13, "tickSize": -5, "tickWidth": 1.2}},
      "fill": {"field": "metric", "type": "nominal", "scale": {"domain": ["per capita bm","abundance"], "range": ["black","white"]}, "legend": null}}},
    {"transform": [{"filter": "datum.trt == 'A'"}],
     "mark": {"type": "text", "text": "(h)", "align": "left", "baseline": "top", "dx": -34, "dy": 0, "font": "Open Sans", "fontSize": 24, "color": "#222"},
     "encoding": {"y": {"datum": 50, "type": "quantitative", "scale": {"domain": [0,50], "range": [181,0], "nice": false, "zero": false}, "axis": {"orient": "left", "title": null, "values": [0,10,20,30,40,50], "labelOverlap": false, "labelPadding": 13, "tickSize": -5, "tickWidth": 1.2}}}}
   ]}
 ],
 "resolve": {"scale": {"y": "independent"}}},

{"width": 179, "height": 181,
 "transform": [{"filter": "datum.panel == 'i'"}],
 "encoding": {"x": {"field": "trt", "type": "nominal", "scale": {"type": "point", "domain": ["A","+C","+C+T","+T"], "range": [38,158], "padding": 0}, "axis": {"title": null, "labels": true, "labelAngle": 0, "labelPadding": 25, "labelFontSize": 14, "tickSize": -5, "domain": false}}},
 "layer": [
  {"transform": [{"filter": "datum.metric == 'abundance'"}],
   "layer": [
    {"mark": {"type": "errorbar", "ticks": true, "size": 19, "thickness": 1.5, "color": "black"},
     "encoding": {"y": {"field": "lo", "type": "quantitative", "scale": {"domain": [0,500,1600], "range": [181,58,0], "nice": false, "zero": false}, "axis": {"orient": "right", "title": null, "values": [0,200,400,500,1600], "labelExpr": "datum.value == 500 ? '' : datum.label", "labelOverlap": false, "tickSize": {"condition": {"test": "datum.value == 500", "value": 10}, "value": -5}, "tickWidth": {"condition": {"test": "datum.value == 500", "value": 3}, "value": 1.2}, "labelPadding": 17}}, "y2": {"field": "hi"}}},
    {"mark": {"type": "point", "shape": "diamond", "size": 190, "filled": true, "stroke": "black", "strokeWidth": 1.5, "opacity": 1},
     "encoding": {"y": {"field": "value", "type": "quantitative", "scale": {"domain": [0,500,1600], "range": [181,58,0], "nice": false, "zero": false}, "axis": {"orient": "right", "title": null, "values": [0,200,400,500,1600], "labelExpr": "datum.value == 500 ? '' : datum.label", "labelOverlap": false, "tickSize": {"condition": {"test": "datum.value == 500", "value": 10}, "value": -5}, "tickWidth": {"condition": {"test": "datum.value == 500", "value": 3}, "value": 1.2}, "labelPadding": 17}},
      "fill": {"field": "metric", "type": "nominal", "scale": {"domain": ["per capita bm","abundance"], "range": ["black","white"]}, "legend": null}}}
   ]},
  {"transform": [{"filter": "datum.metric == 'per capita bm'"}],
   "layer": [
    {"mark": {"type": "errorbar", "ticks": true, "size": 19, "thickness": 1.5, "color": "black"},
     "encoding": {"y": {"field": "lo", "type": "quantitative", "scale": {"domain": [0,10,25], "range": [181,58,0], "nice": false, "zero": false}, "axis": {"orient": "left", "title": "Gammarus spp.", "titleX": -31, "titleFont": "Open Sans", "titleFontSize": 15, "titleFontWeight": "normal", "titleColor": "#333", "values": [0,5,10,25], "labelOverlap": false, "tickSize": {"condition": {"test": "datum.value == 10", "value": 15}, "value": -5}, "tickWidth": {"condition": {"test": "datum.value == 10", "value": 3}, "value": 1.2}, "labelPadding": {"condition": {"test": "datum.value == 10", "value": 0}, "value": 13}}}, "y2": {"field": "hi"}}},
    {"mark": {"type": "point", "shape": "diamond", "size": 190, "filled": true, "stroke": "black", "strokeWidth": 1.5, "opacity": 1},
     "encoding": {"y": {"field": "value", "type": "quantitative", "scale": {"domain": [0,10,25], "range": [181,58,0], "nice": false, "zero": false}, "axis": {"orient": "left", "title": "Gammarus spp.", "titleX": -31, "titleFont": "Open Sans", "titleFontSize": 15, "titleFontWeight": "normal", "titleColor": "#333", "values": [0,5,10,25], "labelOverlap": false, "tickSize": {"condition": {"test": "datum.value == 10", "value": 15}, "value": -5}, "tickWidth": {"condition": {"test": "datum.value == 10", "value": 3}, "value": 1.2}, "labelPadding": {"condition": {"test": "datum.value == 10", "value": 0}, "value": 13}}},
      "fill": {"field": "metric", "type": "nominal", "scale": {"domain": ["per capita bm","abundance"], "range": ["black","white"]}, "legend": null}}},
    {"transform": [{"filter": "datum.trt == 'A'"}],
     "mark": {"type": "text", "text": "(i)", "align": "left", "baseline": "top", "dx": -34, "dy": 0, "font": "Open Sans", "fontSize": 24, "color": "#222"},
     "encoding": {"y": {"datum": 25, "type": "quantitative", "scale": {"domain": [0,10,25], "range": [181,58,0], "nice": false, "zero": false}, "axis": {"orient": "left", "title": "Gammarus spp.", "titleX": -31, "titleFont": "Open Sans", "titleFontSize": 15, "titleFontWeight": "normal", "titleColor": "#333", "values": [0,5,10,25], "labelOverlap": false, "tickSize": {"condition": {"test": "datum.value == 10", "value": 15}, "value": -5}, "tickWidth": {"condition": {"test": "datum.value == 10", "value": 3}, "value": 1.2}, "labelPadding": {"condition": {"test": "datum.value == 10", "value": 0}, "value": 13}}}}}
   ]}
 ],
 "resolve": {"scale": {"y": "independent"}}},

{"width": 179, "height": 181,
 "transform": [{"filter": "datum.panel == 'j'"}],
 "encoding": {"x": {"field": "trt", "type": "nominal", "scale": {"type": "point", "domain": ["A","+C","+C+T","+T"], "range": [38,158], "padding": 0}, "axis": {"title": null, "labels": true, "labelAngle": 0, "labelPadding": 25, "labelFontSize": 14, "tickSize": -5, "domain": false}}},
 "layer": [
  {"transform": [{"filter": "datum.metric == 'abundance'"}],
   "layer": [
    {"mark": {"type": "errorbar", "ticks": true, "size": 19, "thickness": 1.5, "color": "black"},
     "encoding": {"y": {"field": "lo", "type": "quantitative", "scale": {"domain": [0,800,1600], "range": [181,57,0], "nice": false, "zero": false}, "axis": {"orient": "right", "title": null, "values": [0,200,400,600,800,1600], "labelOverlap": false, "tickSize": {"condition": {"test": "datum.value == 800", "value": 10}, "value": -5}, "tickWidth": {"condition": {"test": "datum.value == 800", "value": 3}, "value": 1.2}, "labelPadding": {"condition": {"test": "datum.value == 800", "value": 3}, "value": 17}}}, "y2": {"field": "hi"}}},
    {"mark": {"type": "point", "shape": "diamond", "size": 190, "filled": true, "stroke": "black", "strokeWidth": 1.5, "opacity": 1},
     "encoding": {"y": {"field": "value", "type": "quantitative", "scale": {"domain": [0,800,1600], "range": [181,57,0], "nice": false, "zero": false}, "axis": {"orient": "right", "title": null, "values": [0,200,400,600,800,1600], "labelOverlap": false, "tickSize": {"condition": {"test": "datum.value == 800", "value": 10}, "value": -5}, "tickWidth": {"condition": {"test": "datum.value == 800", "value": 3}, "value": 1.2}, "labelPadding": {"condition": {"test": "datum.value == 800", "value": 3}, "value": 17}}},
      "fill": {"field": "metric", "type": "nominal", "scale": {"domain": ["per capita bm","abundance"], "range": ["black","white"]}, "legend": null}}}
   ]},
  {"transform": [{"filter": "datum.metric == 'per capita bm'"}],
   "layer": [
    {"mark": {"type": "errorbar", "ticks": true, "size": 19, "thickness": 1.5, "color": "black"},
     "encoding": {"y": {"field": "lo", "type": "quantitative", "scale": {"domain": [0,10,25], "range": [181,58,0], "nice": false, "zero": false}, "axis": {"orient": "left", "title": null, "values": [0,5,10,25], "labelOverlap": false, "tickSize": {"condition": {"test": "datum.value == 10", "value": 15}, "value": -5}, "tickWidth": {"condition": {"test": "datum.value == 10", "value": 3}, "value": 1.2}, "labelPadding": {"condition": {"test": "datum.value == 10", "value": 0}, "value": 13}}}, "y2": {"field": "hi"}}},
    {"mark": {"type": "point", "shape": "diamond", "size": 190, "filled": true, "stroke": "black", "strokeWidth": 1.5, "opacity": 1},
     "encoding": {"y": {"field": "value", "type": "quantitative", "scale": {"domain": [0,10,25], "range": [181,58,0], "nice": false, "zero": false}, "axis": {"orient": "left", "title": null, "values": [0,5,10,25], "labelOverlap": false, "tickSize": {"condition": {"test": "datum.value == 10", "value": 15}, "value": -5}, "tickWidth": {"condition": {"test": "datum.value == 10", "value": 3}, "value": 1.2}, "labelPadding": {"condition": {"test": "datum.value == 10", "value": 0}, "value": 13}}},
      "fill": {"field": "metric", "type": "nominal", "scale": {"domain": ["per capita bm","abundance"], "range": ["black","white"]}, "legend": null}}},
    {"transform": [{"filter": "datum.trt == 'A'"}],
     "mark": {"type": "text", "text": "(j)", "align": "left", "baseline": "top", "dx": -34, "dy": 0, "font": "Open Sans", "fontSize": 24, "color": "#222"},
     "encoding": {"y": {"datum": 25, "type": "quantitative", "scale": {"domain": [0,10,25], "range": [181,58,0], "nice": false, "zero": false}, "axis": {"orient": "left", "title": null, "values": [0,5,10,25], "labelOverlap": false, "tickSize": {"condition": {"test": "datum.value == 10", "value": 15}, "value": -5}, "tickWidth": {"condition": {"test": "datum.value == 10", "value": 3}, "value": 1.2}, "labelPadding": {"condition": {"test": "datum.value == 10", "value": 0}, "value": 13}}}}}
   ]}
 ],
 "resolve": {"scale": {"y": "independent"}}},

{"width": 179, "height": 181,
 "transform": [{"filter": "datum.panel == 'k'"}],
 "encoding": {"x": {"field": "trt", "type": "nominal", "scale": {"type": "point", "domain": ["A","+C","+C+T","+T"], "range": [38,158], "padding": 0}, "axis": {"title": null, "labels": true, "labelAngle": 0, "labelPadding": 25, "labelFontSize": 14, "tickSize": -5, "domain": false}}},
 "layer": [
  {"transform": [{"filter": "datum.metric == 'abundance'"}],
   "layer": [
    {"mark": {"type": "errorbar", "ticks": true, "size": 19, "thickness": 1.5, "color": "black"},
     "encoding": {"y": {"field": "lo", "type": "quantitative", "scale": {"domain": [0,200,1600], "range": [181,58,0], "nice": false, "zero": false}, "axis": {"orient": "right", "title": null, "values": [0,100,200,1600], "labelOverlap": false, "tickSize": {"condition": {"test": "datum.value == 200", "value": 10}, "value": -5}, "tickWidth": {"condition": {"test": "datum.value == 200", "value": 3}, "value": 1.2}, "labelPadding": {"condition": {"test": "datum.value == 200", "value": 3}, "value": 17}}}, "y2": {"field": "hi"}}},
    {"mark": {"type": "point", "shape": "diamond", "size": 190, "filled": true, "stroke": "black", "strokeWidth": 1.5, "opacity": 1},
     "encoding": {"y": {"field": "value", "type": "quantitative", "scale": {"domain": [0,200,1600], "range": [181,58,0], "nice": false, "zero": false}, "axis": {"orient": "right", "title": null, "values": [0,100,200,1600], "labelOverlap": false, "tickSize": {"condition": {"test": "datum.value == 200", "value": 10}, "value": -5}, "tickWidth": {"condition": {"test": "datum.value == 200", "value": 3}, "value": 1.2}, "labelPadding": {"condition": {"test": "datum.value == 200", "value": 3}, "value": 17}}},
      "fill": {"field": "metric", "type": "nominal", "scale": {"domain": ["per capita bm","abundance"], "range": ["black","white"]}, "legend": null}}}
   ]},
  {"transform": [{"filter": "datum.metric == 'per capita bm'"}],
   "layer": [
    {"mark": {"type": "errorbar", "ticks": true, "size": 19, "thickness": 1.5, "color": "black"},
     "encoding": {"y": {"field": "lo", "type": "quantitative", "scale": {"domain": [0,15,25], "range": [181,57,0], "nice": false, "zero": false}, "axis": {"orient": "left", "title": null, "values": [0,5,10,15,25], "labelOverlap": false, "tickSize": {"condition": {"test": "datum.value == 15", "value": 15}, "value": -5}, "tickWidth": {"condition": {"test": "datum.value == 15", "value": 3}, "value": 1.2}, "labelPadding": {"condition": {"test": "datum.value == 15", "value": 0}, "value": 13}}}, "y2": {"field": "hi"}}},
    {"mark": {"type": "point", "shape": "diamond", "size": 190, "filled": true, "stroke": "black", "strokeWidth": 1.5, "opacity": 1},
     "encoding": {"y": {"field": "value", "type": "quantitative", "scale": {"domain": [0,15,25], "range": [181,57,0], "nice": false, "zero": false}, "axis": {"orient": "left", "title": null, "values": [0,5,10,15,25], "labelOverlap": false, "tickSize": {"condition": {"test": "datum.value == 15", "value": 15}, "value": -5}, "tickWidth": {"condition": {"test": "datum.value == 15", "value": 3}, "value": 1.2}, "labelPadding": {"condition": {"test": "datum.value == 15", "value": 0}, "value": 13}}},
      "fill": {"field": "metric", "type": "nominal", "scale": {"domain": ["per capita bm","abundance"], "range": ["black","white"]}, "legend": null}}},
    {"transform": [{"filter": "datum.trt == 'A'"}],
     "mark": {"type": "text", "text": "(k)", "align": "left", "baseline": "top", "dx": -34, "dy": 0, "font": "Open Sans", "fontSize": 24, "color": "#222"},
     "encoding": {"y": {"datum": 25, "type": "quantitative", "scale": {"domain": [0,15,25], "range": [181,57,0], "nice": false, "zero": false}, "axis": {"orient": "left", "title": null, "values": [0,5,10,15,25], "labelOverlap": false, "tickSize": {"condition": {"test": "datum.value == 15", "value": 15}, "value": -5}, "tickWidth": {"condition": {"test": "datum.value == 15", "value": 3}, "value": 1.2}, "labelPadding": {"condition": {"test": "datum.value == 15", "value": 0}, "value": 13}}}}}
   ]}
 ],
 "resolve": {"scale": {"y": "independent"}}},

{"width": 179, "height": 181,
 "transform": [{"filter": "datum.panel == 'l'"}],
 "encoding": {"x": {"field": "trt", "type": "nominal", "scale": {"type": "point", "domain": ["A","+C","+C+T","+T"], "range": [38,158], "padding": 0}, "axis": {"title": null, "labels": true, "labelAngle": 0, "labelPadding": 25, "labelFontSize": 14, "tickSize": -5, "domain": false}}},
 "layer": [
  {"transform": [{"filter": "datum.metric == 'abundance'"}],
   "layer": [
    {"mark": {"type": "errorbar", "ticks": true, "size": 19, "thickness": 1.5, "color": "black"},
     "encoding": {"y": {"field": "lo", "type": "quantitative", "scale": {"domain": [0,1600], "range": [181,0], "nice": false, "zero": false}, "axis": {"orient": "right", "title": null, "values": [0,400,800,1200,1600], "labelOverlap": false, "labelPadding": 17, "tickSize": -5, "tickWidth": 1.2}}, "y2": {"field": "hi"}}},
    {"mark": {"type": "point", "shape": "diamond", "size": 190, "filled": true, "stroke": "black", "strokeWidth": 1.5, "opacity": 1},
     "encoding": {"y": {"field": "value", "type": "quantitative", "scale": {"domain": [0,1600], "range": [181,0], "nice": false, "zero": false}, "axis": {"orient": "right", "title": null, "values": [0,400,800,1200,1600], "labelOverlap": false, "labelPadding": 17, "tickSize": -5, "tickWidth": 1.2}},
      "fill": {"field": "metric", "type": "nominal", "scale": {"domain": ["per capita bm","abundance"], "range": ["black","white"]}, "legend": null}}}
   ]},
  {"transform": [{"filter": "datum.metric == 'per capita bm'"}],
   "layer": [
    {"mark": {"type": "errorbar", "ticks": true, "size": 19, "thickness": 1.5, "color": "black"},
     "encoding": {"y": {"field": "lo", "type": "quantitative", "scale": {"domain": [0,25], "range": [181,0], "nice": false, "zero": false}, "axis": {"orient": "left", "title": null, "values": [0,5,10,15,20,25], "labelOverlap": false, "labelPadding": 13, "tickSize": -5, "tickWidth": 1.2}}, "y2": {"field": "hi"}}},
    {"mark": {"type": "point", "shape": "diamond", "size": 190, "filled": true, "stroke": "black", "strokeWidth": 1.5, "opacity": 1},
     "encoding": {"y": {"field": "value", "type": "quantitative", "scale": {"domain": [0,25], "range": [181,0], "nice": false, "zero": false}, "axis": {"orient": "left", "title": null, "values": [0,5,10,15,20,25], "labelOverlap": false, "labelPadding": 13, "tickSize": -5, "tickWidth": 1.2}},
      "fill": {"field": "metric", "type": "nominal", "scale": {"domain": ["per capita bm","abundance"], "range": ["black","white"]}, "legend": null}}},
    {"transform": [{"filter": "datum.trt == 'A'"}],
     "mark": {"type": "text", "text": "(l)", "align": "left", "baseline": "top", "dx": -34, "dy": 0, "font": "Open Sans", "fontSize": 24, "color": "#222"},
     "encoding": {"y": {"datum": 25, "type": "quantitative", "scale": {"domain": [0,25], "range": [181,0], "nice": false, "zero": false}, "axis": {"orient": "left", "title": null, "values": [0,5,10,15,20,25], "labelOverlap": false, "labelPadding": 13, "tickSize": -5, "tickWidth": 1.2}}}}
   ]}
 ],
 "resolve": {"scale": {"y": "independent"}}}
],
"config": {
 "numberFormat": "d",
 "view": {"stroke": "black", "strokeWidth": 1.5},
 "axis": {"domain": false, "grid": false, "labelFont": "DejaVu Sans", "labelFontSize": 14.5, "labelColor": "#444", "tickColor": "black", "tickWidth": 1.2}
}
}
